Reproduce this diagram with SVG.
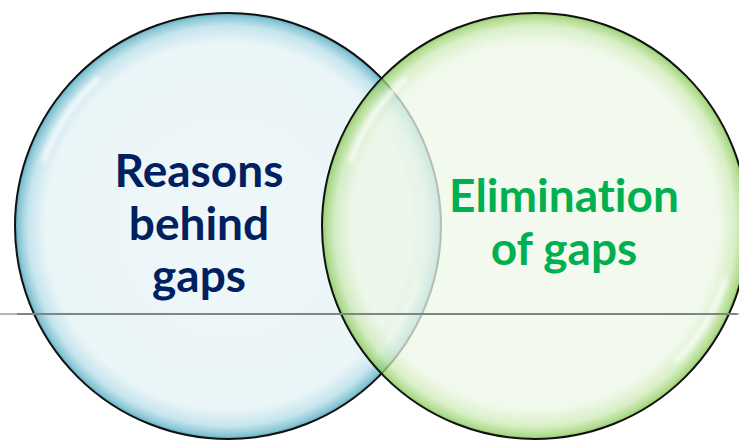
<svg xmlns="http://www.w3.org/2000/svg" width="739" height="441" viewBox="0 0 739 441">
<style>
.outline{fill:none;stroke:#111;stroke-width:2}
.hl{fill:none;stroke:#ffffff;stroke-width:5;stroke-linecap:round;opacity:0.8}
.t{font-family:Lato,"Open Sans","Liberation Sans",sans-serif;font-weight:bold;font-size:46px;text-anchor:middle;font-variant-ligatures:none;font-feature-settings:"liga" 0}
.blue{fill:#002060}
.green{fill:#00B050}
</style>
<defs>
<radialGradient id="gBlue" cx="0.5" cy="0.5" r="0.5">
<stop offset="0" stop-color="#eff7fa"/>
<stop offset="0.86" stop-color="#eaf5f8"/>
<stop offset="0.94" stop-color="#c6e5ed"/>
<stop offset="0.985" stop-color="#86c5d4"/>
<stop offset="1" stop-color="#5aa6ba"/>
</radialGradient>
<radialGradient id="gGreen" cx="0.5" cy="0.5" r="0.5">
<stop offset="0" stop-color="#f0f8ea"/>
<stop offset="0.86" stop-color="#edf7e6"/>
<stop offset="0.94" stop-color="#cdeab4"/>
<stop offset="0.985" stop-color="#95cf66"/>
<stop offset="1" stop-color="#6bb838"/>
</radialGradient>
<filter id="soft" x="-10%" y="-10%" width="120%" height="120%"><feGaussianBlur stdDeviation="2"/></filter>
</defs>
<line x1="0" y1="314" x2="739" y2="314" stroke="#b5b5b5" stroke-width="2"/>
<g id="node-reasons">
<circle cx="228" cy="226" r="213" fill="url(#gBlue)"/>
<path class="hl" filter="url(#soft)" d="M 44 160 A 196 196 0 0 1 98 79"/>
<path class="hl" filter="url(#soft)" d="M 418 280 A 198 198 0 0 1 370 360"/>
<circle class="outline" cx="228" cy="226" r="213"/>
</g>
<g id="node-elimination">
<circle cx="535" cy="226" r="213" fill="url(#gGreen)" fill-opacity="0.75"/>
<path class="hl" filter="url(#soft)" d="M 351 160 A 196 196 0 0 1 405 79"/>
<path class="hl" filter="url(#soft)" d="M 725 280 A 198 198 0 0 1 677 360"/>
<circle class="outline" cx="535" cy="226" r="213"/>
</g>
<g id="connectors">
<line x1="17" y1="314" x2="737" y2="314" stroke="#7e8585" stroke-width="2"/>
</g>
<g id="labels">
<text class="t blue" x="199" y="187">Reasons</text>
<text class="t blue" x="199" y="240">behind</text>
<text class="t blue" x="199" y="292">gaps</text>
<text class="t green" x="564" y="212">Elimination</text>
<text class="t green" x="564" y="265">of gaps</text>
</g>
</svg>
